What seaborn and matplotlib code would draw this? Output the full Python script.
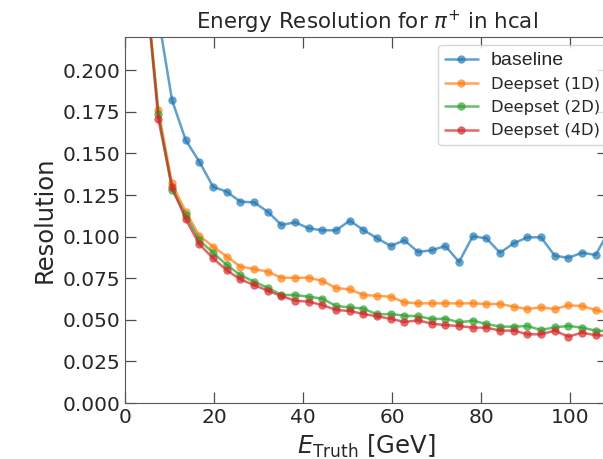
import matplotlib
matplotlib.use('Agg')
import pandas as pd
import matplotlib.pyplot as plt
import seaborn as sns

# bin centres (GeV)
e_truth = [4.43, 7.5, 10.57, 13.64, 16.71, 19.78, 22.85, 25.92, 28.99, 32.06,
           35.13, 38.2, 41.27, 44.34, 47.41, 50.48, 53.55, 56.62, 59.69, 62.76,
           65.83, 68.9, 71.97, 75.04, 78.11, 81.18, 84.25, 87.32, 90.39, 93.46,
           96.53, 99.6, 102.67, 105.74, 108.81]

baseline = [0.40, 0.232, 0.182, 0.158, 0.145, 0.130, 0.127, 0.121, 0.1206, 0.115,
            0.107, 0.1086, 0.105, 0.1038, 0.1038, 0.1096, 0.104, 0.099, 0.0944, 0.0978,
            0.0908, 0.0918, 0.0944, 0.0848, 0.1002, 0.099, 0.0903, 0.096, 0.0996, 0.0996,
            0.0885, 0.0873, 0.0903, 0.089, 0.104]

deepset_1d = [0.258, 0.176, 0.132, 0.115, 0.1006, 0.094, 0.088, 0.082, 0.0805, 0.079,
              0.0753, 0.0753, 0.0753, 0.0734, 0.0691, 0.0683, 0.065, 0.0644, 0.0639, 0.0605,
              0.0599, 0.0599, 0.0599, 0.0599, 0.0599, 0.0595, 0.0595, 0.0579, 0.0565, 0.0575,
              0.0565, 0.0587, 0.0583, 0.0559, 0.054]

deepset_2d = [0.258, 0.174, 0.128, 0.113, 0.0978, 0.0903, 0.083, 0.0769, 0.0729, 0.0693,
              0.0649, 0.0649, 0.0639, 0.0627, 0.0583, 0.0575, 0.0568, 0.0532, 0.0535, 0.0525,
              0.0521, 0.0505, 0.0507, 0.0485, 0.0495, 0.0475, 0.0459, 0.0459, 0.0463, 0.0439,
              0.0455, 0.0463, 0.0453, 0.0435, 0.0432]

deepset_4d = [0.258, 0.1705, 0.130, 0.1104, 0.0954, 0.087, 0.0798, 0.0743, 0.0709, 0.0675,
              0.0643, 0.0615, 0.0609, 0.0589, 0.0559, 0.0553, 0.0535, 0.0521, 0.0506, 0.0487,
              0.0497, 0.0477, 0.0468, 0.0463, 0.0453, 0.0453, 0.0435, 0.0435, 0.0413, 0.0413,
              0.0435, 0.0399, 0.0423, 0.0407, 0.0405]

series = {
    'baseline': baseline,
    'Deepset (1D)': deepset_1d,
    'Deepset (2D)': deepset_2d,
    'Deepset (4D)': deepset_4d,
}

sns.set_style('ticks')
plt.rcParams['font.family'] = ['DejaVu Sans']
plt.rcParams['xtick.direction'] = 'in'
plt.rcParams['ytick.direction'] = 'in'
plt.rcParams['xtick.top'] = True
plt.rcParams['ytick.right'] = True

fig = plt.figure(figsize=(6.03, 4.59), dpi=100)
# axes runs past the right edge of the figure, like the cropped original
ax = fig.add_axes([0.2073, 0.122, 0.801, 0.7974])

colors = sns.color_palette('tab10', 4)
for (name, vals), c in zip(series.items(), colors):
    df = pd.DataFrame({'E': e_truth, 'res': vals})
    sns.lineplot(data=df, x='E', y='res', ax=ax, color=c, marker='o',
                 markersize=6, markeredgewidth=0, linewidth=1.8, alpha=0.7,
                 label=name, sort=False, errorbar=None)

ax.set_xlim(0, 108.5)
ax.set_ylim(0, 0.22)
ax.set_xticks([0, 20, 40, 60, 80, 100])
ax.set_yticks([0.0, 0.025, 0.05, 0.075, 0.1, 0.125, 0.15, 0.175, 0.2])
ax.set_yticklabels(['0.000', '0.025', '0.050', '0.075', '0.100', '0.125',
                    '0.150', '0.175', '0.200'])
ax.tick_params(labelsize=14.5, length=8, width=0.9, color='0.3')
for sp in ax.spines.values():
    sp.set_color('0.35')

ax.set_title(r'Energy Resolution for $\pi^{+}$ in hcal', fontsize=15.4)
ax.set_xlabel(r'$E_{\mathrm{Truth}}$ [GeV]', fontsize=17.5)
ax.set_ylabel('Resolution', fontsize=17.5)

leg = ax.legend(loc='upper right', bbox_to_anchor=(1.014, 1.0), fontsize=11.8)
leg.get_texts()[0].set_fontfamily('Liberation Sans')
leg.get_texts()[0].set_fontsize(14)

fig.savefig('out.png', dpi=100)
